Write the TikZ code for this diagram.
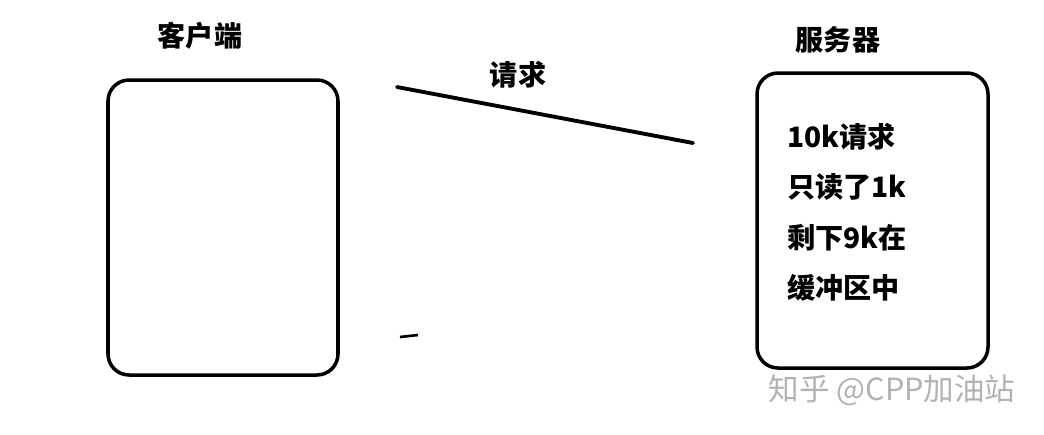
\documentclass[tikz,border=0pt]{standalone}
\usepackage{fontspec}
\newfontfamily\cjk{Noto Sans CJK SC}
\usepackage{tikz}

\begin{document}
\begin{tikzpicture}[x=0.02cm,y=-0.02cm,
  box/.style={draw,line width=2pt,rounded corners=12},
  title/.style={font=\cjk\bfseries\fontsize{16}{18}\selectfont},
  txt/.style={font=\cjk\bfseries\fontsize{16}{18}\selectfont,anchor=west,inner sep=0pt},
  wmark/.style={font=\cjk\fontsize{17.4}{19}\selectfont,text=black!30}]
\useasboundingbox (0,0) rectangle (1044,434);
%boxes
\draw[box] (108,80) rectangle (338,375);
\draw[box] (757,73) rectangle (988,368);
\node[title] (clientlabel) at (200,36){客户端};
\node[title] (serverlabel) at (838,40){服务器};
%request
\coordinate (reqa) at (397,87);
\coordinate (reqb) at (693,143);
\draw[line width=2.2pt,line cap=round] (reqa) -- (reqb);
\node[title] (reqlabel) at (518,75){请求};
\coordinate (backa) at (400,337);
\coordinate (backb) at (418,335);
\draw[line width=1.5pt] (backa) -- (backb);
%server text
\node[txt] (l1) at (787,137){10k请求};
\node[txt] (l2) at (787,187){只读了1k};
\node[txt] (l3) at (787,238){剩下9k在};
\node[txt] (l4) at (787,288){缓冲区中};
\node[wmark] (wm) at (892,390){知乎 @CPP加油站};
\end{tikzpicture}
\end{document}
